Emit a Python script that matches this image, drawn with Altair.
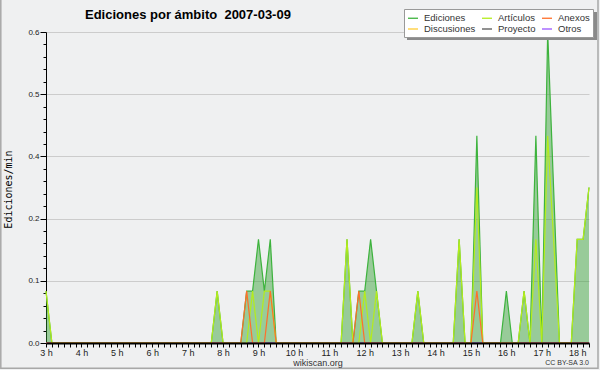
import altair as alt
import pandas as pd

# 10-minute bins, minutes since midnight (03:00 .. 18:20)
minutes = list(range(180, 1101, 10))

ediciones = [
    0.1, 0, 0, 0, 0, 0, 0, 0, 0, 0,
    0, 0, 0, 0, 0, 0, 0, 0, 0, 0,
    0, 0, 0, 0, 0, 0, 0, 0, 0, 0.1,
    0, 0, 0, 0, 0.1, 0.1, 0.2, 0.1, 0.2, 0,
    0, 0, 0, 0, 0, 0, 0, 0, 0, 0,
    0, 0.2, 0, 0.1, 0.1, 0.2, 0.1, 0, 0, 0,
    0, 0, 0, 0.1, 0, 0, 0, 0, 0, 0,
    0.2, 0, 0, 0.4, 0, 0, 0, 0, 0.1, 0,
    0, 0.1, 0, 0.4, 0, 0.6, 0.3, 0, 0, 0,
    0.2, 0.2, 0.3]

articulos = [
    0.1, 0, 0, 0, 0, 0, 0, 0, 0, 0,
    0, 0, 0, 0, 0, 0, 0, 0, 0, 0,
    0, 0, 0, 0, 0, 0, 0, 0, 0, 0.1,
    0, 0, 0, 0, 0, 0.1, 0, 0.1, 0.1, 0,
    0, 0, 0, 0, 0, 0, 0, 0, 0, 0,
    0, 0.2, 0, 0, 0.1, 0, 0.1, 0, 0, 0,
    0, 0, 0, 0.1, 0, 0, 0, 0, 0, 0,
    0.2, 0, 0, 0.3, 0, 0, 0, 0, 0, 0,
    0, 0.1, 0, 0.2, 0, 0.4, 0.2, 0, 0, 0,
    0.2, 0.2, 0.3]

anexos = [
    0, 0, 0, 0, 0, 0, 0, 0, 0, 0,
    0, 0, 0, 0, 0, 0, 0, 0, 0, 0,
    0, 0, 0, 0, 0, 0, 0, 0, 0, 0,
    0, 0, 0, 0, 0.1, 0, 0, 0, 0.1, 0,
    0, 0, 0, 0, 0, 0, 0, 0, 0, 0,
    0, 0, 0, 0.1, 0, 0, 0, 0, 0, 0,
    0, 0, 0, 0, 0, 0, 0, 0, 0, 0,
    0, 0, 0, 0.1, 0, 0, 0, 0, 0, 0,
    0, 0, 0, 0, 0, 0, 0, 0, 0, 0,
    0, 0, 0]

discusiones = [0.0] * len(minutes)
proyecto = [0.0] * len(minutes)
otros = [0.0] * len(minutes)

# legend fills column by column: (Ediciones, Discusiones), (Artículos, Proyecto), (Anexos, Otros)
series_names = ["Ediciones", "Discusiones", "Artículos", "Proyecto", "Anexos", "Otros"]
series_colors = ["#3db33d", "#ffcc33", "#b4ec1c", "#555555", "#ff6f2a", "#9955ff"]
values = {
    "Ediciones": ediciones, "Artículos": articulos, "Anexos": anexos,
    "Discusiones": discusiones, "Proyecto": proyecto, "Otros": otros,
}
draw_order = ["Discusiones", "Proyecto", "Otros", "Ediciones", "Artículos", "Anexos"]

title_text = "Ediciones por ámbito\u00a0\u00a02007-03-09"
license_text = "CC BY-SA 3.0"

rows = []
for name in series_names:
    for m, v in zip(minutes, values[name]):
        rows.append({"min": m, "serie": name, "v": v})
df = pd.DataFrame(rows)

y_ticks = [round(i * 0.024, 3) for i in range(26)]
MAJ = "abs(datum.value / 0.12 - round(datum.value / 0.12)) < 0.01"

x_enc = alt.X(
    "min:Q",
    scale=alt.Scale(domain=[180, 1100], nice=False, zero=False),
    axis=alt.Axis(
        values=minutes,
        labelExpr="datum.value % 60 == 0 ? (datum.value / 60) + ' h' : ''",
        tickSize=4, tickColor="black", tickWidth=1,
        domainColor="black", domainWidth=2,
        labelFont="Liberation Sans", labelFontSize=9, labelColor="#222",
        labelPadding=1, labelOverlap=False, labelFlush=False, labelBound=False,
        grid=False,
        title="wikiscan.org", titleFont="Liberation Sans", titleFontSize=9,
        titleFontWeight="normal", titleColor="#333", titlePadding=1,
        zindex=1,
    ),
)
y_enc = alt.Y(
    "v:Q",
    scale=alt.Scale(domain=[0, 0.6], nice=False),
    axis=alt.Axis(
        values=y_ticks,
        labelExpr=MAJ + " ? format(datum.value, '.1f') : ''",
        tickSize={"condition": {"test": MAJ, "value": 6}, "value": 3},
        tickColor="black", domainColor="black",
        labelFont="Liberation Sans", labelFontSize=8, labelColor="#222",
        labelPadding=1, labelOverlap=False, labelFlush=False,
        grid=True, gridColor="#cccccc", gridWidth=1,
        gridOpacity={"condition": {"test": MAJ, "value": 1}, "value": 0},
        title="Ediciones/min", titleFont="DejaVu Sans Mono", titleFontSize=10,
        titleFontWeight="normal", titleColor="black",
        titleX=-33, titleY=157, titleAlign="center",
    ),
)

color_enc = alt.Color(
    "serie:N",
    scale=alt.Scale(domain=series_names, range=series_colors),
    legend=alt.Legend(
        orient="none", legendX=358, legendY=-23, columns=3,
        symbolType="stroke", symbolSize=100, symbolStrokeWidth=1.3,
        labelFont="Liberation Sans", labelFontSize=9.5, labelColor="#333",
        fillColor="white", strokeColor="#999999", padding=3,
        columnPadding=3, rowPadding=-1, title=None, labelLimit=0, labelOffset=5,
    ),
)

base = alt.Chart(df)

area = base.transform_filter(alt.datum.serie == "Ediciones").mark_area(
    color="#2e9e2e", opacity=0.45
).encode(x=x_enc, y=y_enc)

line_layers = [
    base.transform_filter(alt.datum.serie == name).mark_line(strokeWidth=1.2).encode(
        x=x_enc, y=y_enc, color=color_enc
    )
    for name in draw_order
]

title_mark = alt.Chart(pd.DataFrame({"t": [title_text]})).mark_text(
    align="left", baseline="alphabetic", font="Liberation Sans", fontSize=13,
    fontWeight="bold", color="black"
).encode(text="t:N", x=alt.value(39), y=alt.value(-13))

footer = alt.Chart(pd.DataFrame({"t": [license_text]})).mark_text(
    align="right", baseline="alphabetic", font="Liberation Sans", fontSize=7, color="#333"
).encode(text="t:N", x=alt.value(543), y=alt.value(333))

# legend drop shadow (drawn beneath the legend box)
legend_shadow = alt.Chart(pd.DataFrame({"s": [1]})).mark_rect(
    color="#8a8a8a"
).encode(x=alt.value(361), x2=alt.value(551), y=alt.value(-20), y2=alt.value(8))

frame = alt.Chart(pd.DataFrame({"f": [1]})).mark_rect(
    filled=False, stroke="#a8a8a8", strokeWidth=1.5
).encode(x=alt.value(-45.2), x2=alt.value(552), y=alt.value(-72), y2=alt.value(336.2))

chart = alt.layer(area, *line_layers, legend_shadow, title_mark, footer, frame).properties(
    width=543, height=311,
    autosize=alt.AutoSizeParams(type="none"),
    padding={"left": 46, "top": 32, "right": 11, "bottom": 27},
).configure(background="#eff0f1").configure_view(stroke=None)

chart.save("out.html", embed_options={"renderer": "svg", "actions": False})
